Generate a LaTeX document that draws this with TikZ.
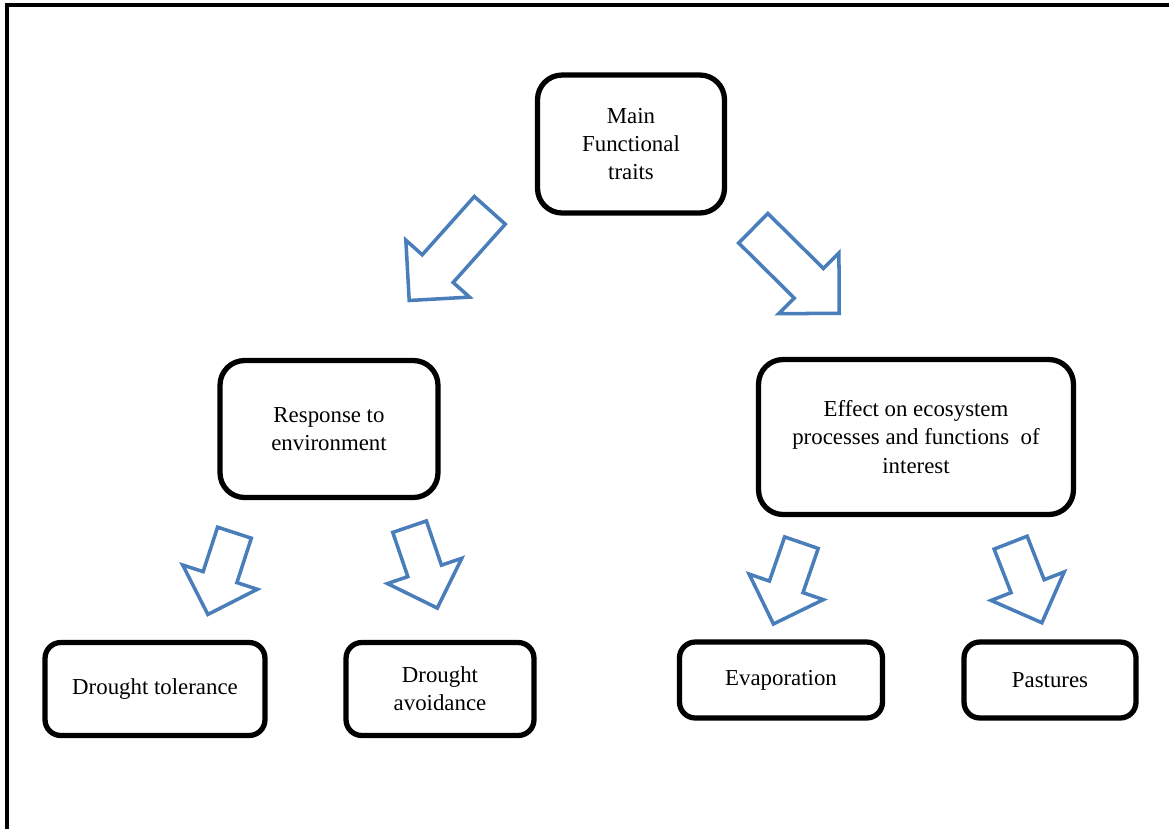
\documentclass[tikz,border=0pt]{standalone}
\usepackage{fontspec}
\setmainfont{Liberation Serif}
\usetikzlibrary{shapes.arrows}
\definecolor{arrowblue}{HTML}{4A7EBB}

\begin{document}
\begin{tikzpicture}[x=0.02cm,y=-0.02cm,
    box/.style={draw,line width=3pt,rounded corners=14pt,align=center,
      font=\fontsize{13}{16}\selectfont,inner sep=0pt},
    smallbox/.style={box,rounded corners=9pt},
    fatarrow/.style={single arrow,draw=arrowblue,line width=2pt,fill=white,
      inner xsep=0pt,inner ysep=0.38cm,anchor=tail,minimum height=2.42cm,
      single arrow head extend=0.44cm},
    thinarrow/.style={fatarrow,minimum height=1.72cm,inner ysep=0.32cm,
      single arrow head extend=0.43cm}]
  \useasboundingbox (0,0) rectangle (1169,829);
  % frame
  \draw[line width=2.3pt] (7,829) -- (7,5) -- (1169,5);
  % boxes
  \node[box,minimum width=3.74cm,minimum height=2.76cm] (main) at (631,144) {Main\\Functional\\traits};
  \node[box,minimum width=4.36cm,minimum height=2.74cm] (resp) at (329,429) {Response to\\environment};
  \node[box,minimum width=6.3cm,minimum height=3.1cm] (effect) at (916,437) {Effect on ecosystem\\processes and functions\ \ of\\interest};
  \node[smallbox,minimum width=4.4cm,minimum height=1.86cm] (tol) at (155,689) {Drought tolerance};
  \node[smallbox,minimum width=3.76cm,minimum height=1.86cm] (avoid) at (440,689) {Drought\\avoidance};
  \node[smallbox,minimum width=4.06cm,minimum height=1.52cm] (evap) at (781,680) {Evaporation};
  \node[smallbox,minimum width=3.44cm,minimum height=1.52cm] (past) at (1050,680) {Pastures};
  % block arrows
  \node[fatarrow,rotate=-131.8] (a1) at (491,209) {};
  \node[fatarrow,rotate=-44.7] (a2) at (752,227) {};
  \node[thinarrow,rotate=-108] (a3) at (235,531) {};
  \node[thinarrow,rotate=-71.2] (a4) at (409,525) {};
  \node[thinarrow,rotate=-109] (a5) at (802,541) {};
  \node[thinarrow,rotate=-68.7] (a6) at (1010,541) {};
\end{tikzpicture}
\end{document}
